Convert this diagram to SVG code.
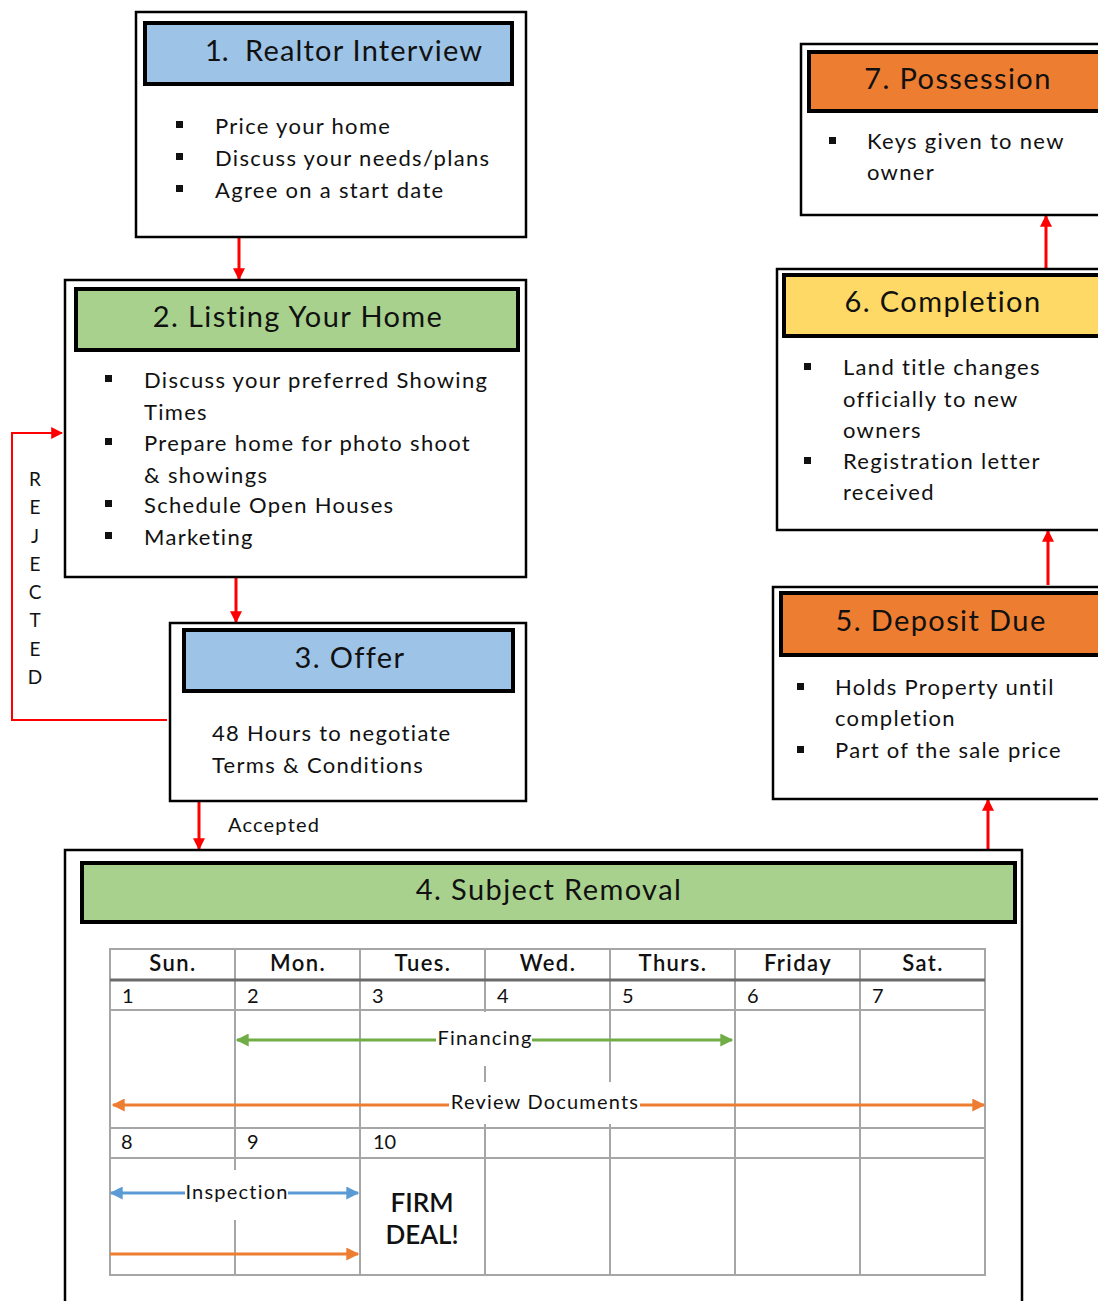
<svg xmlns="http://www.w3.org/2000/svg" width="1098" height="1301" viewBox="0 0 1098 1301">
<style>
.box{fill:#fff;stroke:#000;stroke-width:2.5}
.hdr{stroke:#000;stroke-width:4}
.t{font-family:Lato,"Noto Sans",sans-serif;fill:#111}
.title{font-size:29px;text-anchor:middle;letter-spacing:1.4px}
.body{font-size:22px;letter-spacing:1.3px}
.day{font-size:22px;text-anchor:middle;font-weight:600;letter-spacing:1.4px}
.num{font-size:20px}
.lbl{font-size:20px;text-anchor:middle;letter-spacing:1.2px}
.grid{stroke:#a6a6a6;stroke-width:2;fill:none}
.red{stroke:#ff0000;stroke-width:3;fill:none}
</style>
<defs>
<marker id="ar" viewBox="0 0 10 10" refX="9" refY="5" markerUnits="userSpaceOnUse" markerWidth="12" markerHeight="13" orient="auto"><path d="M0,0L10,5L0,10z" fill="#ff0000"/></marker>
<marker id="ag" viewBox="0 0 10 10" refX="9" refY="5" markerUnits="userSpaceOnUse" markerWidth="14" markerHeight="13" orient="auto-start-reverse"><path d="M0,0L10,5L0,10z" fill="#70ad47"/></marker>
<marker id="ao" viewBox="0 0 10 10" refX="9" refY="5" markerUnits="userSpaceOnUse" markerWidth="14" markerHeight="13" orient="auto-start-reverse"><path d="M0,0L10,5L0,10z" fill="#ed7d31"/></marker>
<marker id="ab" viewBox="0 0 10 10" refX="9" refY="5" markerUnits="userSpaceOnUse" markerWidth="14" markerHeight="13" orient="auto-start-reverse"><path d="M0,0L10,5L0,10z" fill="#5b9bd5"/></marker>
</defs>

<g id="connectors">
<line class="red" x1="239" y1="237" x2="239" y2="279" marker-end="url(#ar)"/>
<line class="red" x1="236" y1="577" x2="236" y2="622" marker-end="url(#ar)"/>
<line class="red" x1="199" y1="801" x2="199" y2="849" marker-end="url(#ar)"/>
<line class="red" x1="988" y1="850" x2="988" y2="800" marker-end="url(#ar)"/>
<line class="red" x1="1048" y1="585" x2="1048" y2="531" marker-end="url(#ar)"/>
<line class="red" x1="1046" y1="269" x2="1046" y2="216" marker-end="url(#ar)"/>
<polyline points="167,720 12,720 12,433 62,433" fill="none" stroke="#ff0000" stroke-width="2" marker-end="url(#ar)"/>
<text class="t" x="228" y="832" font-size="20" letter-spacing="1.2">Accepted</text>
<g class="t" font-size="19" text-anchor="middle">
<text x="35" y="486">R</text><text x="35" y="514">E</text><text x="35" y="543">J</text><text x="35" y="571">E</text>
<text x="35" y="599">C</text><text x="35" y="627">T</text><text x="35" y="656">E</text><text x="35" y="684">D</text>
</g>
</g>

<g id="node1">
<rect class="box" x="136" y="12" width="390" height="225"/>
<rect class="hdr" x="145" y="23" width="367" height="61" fill="#9dc3e6"/>
<text class="t" x="205" y="61" font-size="29">1.</text>
<text class="t" x="245" y="61" font-size="29" letter-spacing="1.2">Realtor Interview</text>
<g class="t body">
<rect x="176" y="121" width="7" height="7"/><text x="215" y="134">Price your home</text>
<rect x="176" y="153" width="7" height="7"/><text x="215" y="166">Discuss your needs/plans</text>
<rect x="176" y="185" width="7" height="7"/><text x="215" y="198">Agree on a start date</text>
</g>
</g>

<g id="node2">
<rect class="box" x="65" y="280" width="461" height="297"/>
<rect class="hdr" x="76" y="289" width="442" height="61" fill="#a9d18e"/>
<text class="t title" x="298" y="327">2. Listing Your Home</text>
<g class="t body">
<rect x="105" y="375" width="7" height="7"/><text x="144" y="388">Discuss your preferred Showing</text>
<text x="144" y="420">Times</text>
<rect x="105" y="438" width="7" height="7"/><text x="144" y="451">Prepare home for photo shoot</text>
<text x="144" y="483">&amp; showings</text>
<rect x="105" y="500" width="7" height="7"/><text x="144" y="513">Schedule Open Houses</text>
<rect x="105" y="532" width="7" height="7"/><text x="144" y="545">Marketing</text>
</g>
</g>

<g id="node3">
<rect class="box" x="170" y="623" width="356" height="178"/>
<rect class="hdr" x="184" y="630" width="329" height="61" fill="#9dc3e6"/>
<text class="t title" x="350" y="668">3. Offer</text>
<g class="t body">
<text x="212" y="741">48 Hours to negotiate</text>
<text x="212" y="773">Terms &amp; Conditions</text>
</g>
</g>

<g id="node4">
<rect class="box" x="65" y="850" width="957" height="470"/>
<rect class="hdr" x="82" y="863" width="933" height="59" fill="#a9d18e"/>
<text class="t title" x="549" y="900">4. Subject Removal</text>
<g id="calendar">
<path class="grid" d="M110,949H985V1275H110Z M110,1010H985 M110,1128H985 M110,1158H985 M235,949V1275 M360,949V1275 M485,949V1275 M610,949V1275 M735,949V1275 M860,949V1275"/>
<line x1="110" y1="980" x2="985" y2="980" stroke="#6b6b6b" stroke-width="3"/>
<rect x="432" y="1012" width="104" height="54" fill="#fff"/>
<rect x="447" y="1082" width="194" height="42" fill="#fff"/>
<rect x="184" y="1170" width="104" height="50" fill="#fff"/>
<g class="t day">
<text x="173" y="971">Sun.</text><text x="298" y="971">Mon.</text><text x="423" y="971">Tues.</text><text x="548" y="971">Wed.</text>
<text x="673" y="971">Thurs.</text><text x="798" y="971">Friday</text><text x="923" y="971">Sat.</text>
</g>
<g class="t num">
<text x="122" y="1003">1</text><text x="247" y="1003">2</text><text x="372" y="1003">3</text><text x="497" y="1003">4</text>
<text x="622" y="1003">5</text><text x="747" y="1003">6</text><text x="872" y="1003">7</text>
<text x="121" y="1149">8</text><text x="247" y="1149">9</text><text x="373" y="1149">10</text>
</g>
<line x1="237" y1="1040" x2="436" y2="1040" stroke="#70ad47" stroke-width="3" marker-start="url(#ag)"/>
<line x1="532" y1="1040" x2="732" y2="1040" stroke="#70ad47" stroke-width="3" marker-end="url(#ag)"/>
<text class="t lbl" x="485" y="1045">Financing</text>
<line x1="113" y1="1105" x2="449" y2="1105" stroke="#ed7d31" stroke-width="3" marker-start="url(#ao)"/>
<line x1="640" y1="1105" x2="984" y2="1105" stroke="#ed7d31" stroke-width="3" marker-end="url(#ao)"/>
<text class="t lbl" x="545" y="1109">Review Documents</text>
<line x1="111" y1="1193" x2="185" y2="1193" stroke="#5b9bd5" stroke-width="3" marker-start="url(#ab)"/>
<line x1="288" y1="1193" x2="358" y2="1193" stroke="#5b9bd5" stroke-width="3" marker-end="url(#ab)"/>
<text class="t lbl" x="237" y="1199">Inspection</text>
<line x1="110" y1="1254" x2="358" y2="1254" stroke="#ed7d31" stroke-width="3" marker-end="url(#ao)"/>
<g class="t" font-size="26" font-weight="600" text-anchor="middle">
<text x="422" y="1212">FIRM</text><text x="422" y="1244">DEAL!</text>
</g>
</g>
</g>

<g id="node5">
<rect class="box" x="773" y="587" width="340" height="212"/>
<rect class="hdr" x="781" y="593" width="330" height="62" fill="#ed7d31"/>
<text class="t title" x="941" y="631">5. Deposit Due</text>
<g class="t body">
<rect x="797" y="683" width="7" height="7"/><text x="835" y="695">Holds Property until</text>
<text x="835" y="726">completion</text>
<rect x="797" y="746" width="7" height="7"/><text x="835" y="758">Part of the sale price</text>
</g>
</g>

<g id="node6">
<rect class="box" x="777" y="269" width="340" height="261"/>
<rect class="hdr" x="784" y="275" width="330" height="61" fill="#ffd966"/>
<text class="t title" x="943" y="312">6. Completion</text>
<g class="t body">
<rect x="804" y="363" width="7" height="7"/><text x="843" y="375">Land title changes</text>
<text x="843" y="407">officially to new</text>
<text x="843" y="438">owners</text>
<rect x="804" y="457" width="7" height="7"/><text x="843" y="469">Registration letter</text>
<text x="843" y="500">received</text>
</g>
</g>

<g id="node7">
<rect class="box" x="801" y="44" width="320" height="171"/>
<rect class="hdr" x="809" y="52" width="310" height="59" fill="#ed7d31"/>
<text class="t title" x="958" y="89">7. Possession</text>
<g class="t body">
<rect x="829" y="137" width="7" height="7"/><text x="867" y="149">Keys given to new</text>
<text x="867" y="180">owner</text>
</g>
</g>
</svg>
